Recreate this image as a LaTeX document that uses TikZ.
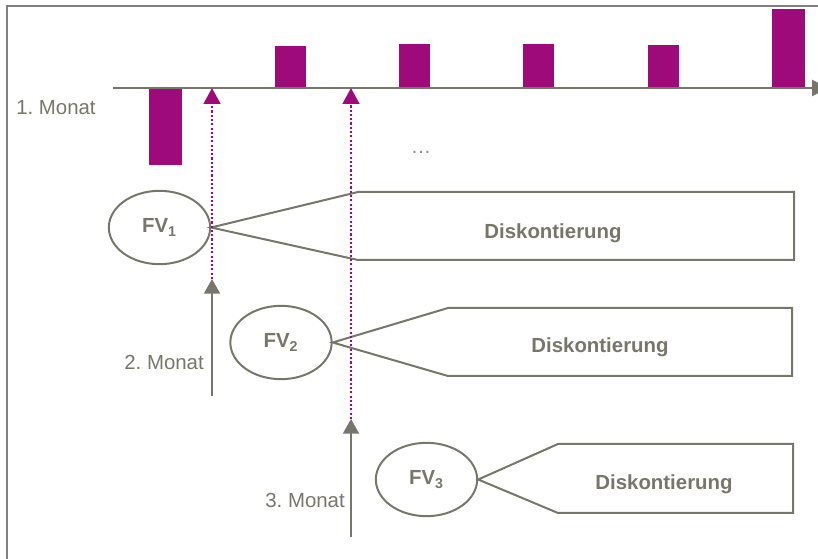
\documentclass[tikz,border=0pt]{standalone}
\usepackage{fontspec}
\setmainfont{Liberation Sans}
\usepackage{xcolor}
\usepackage{tikz}
\usetikzlibrary{shapes,arrows,positioning,calc,arrows.meta}
\definecolor{linegray}{RGB}{118,118,106}
\definecolor{bordergray}{RGB}{128,128,128}
\definecolor{barpurple}{RGB}{158,10,122}
\newcommand{\labelfont}{\fontsize{15.3}{18}\selectfont}
\frenchspacing

\tikzset{
    fv/.style={ellipse, draw=linegray, line width=1.5pt, minimum width=76pt, minimum height=55pt, inner sep=0pt, text=linegray, font=\labelfont\bfseries},
    pentbox/.style={draw=linegray, line width=1.5pt, line join=miter},
    disk/.style={text=linegray, font=\labelfont\bfseries, inner sep=0pt},
    monat/.style={text=linegray, font=\labelfont, inner sep=0pt},
    grayarrow/.style={draw=linegray, line width=1.5pt, -{Triangle[length=11pt, width=12pt]}},
    purplearrow/.style={draw=barpurple, line width=2pt, dash pattern=on 1.6pt off 1.6pt, -{Triangle[length=12pt, width=12.5pt]}}
}

\begin{document}
\begin{tikzpicture}[x=0.75pt, y=-0.75pt]
    \useasboundingbox (0,0) rectangle (818,559);
    % Frame
    \draw[bordergray, line width=1.5pt] (7,580) -- (7,6) -- (840,6);
    % Cash flows
    \fill[barpurple] (149,88) rectangle (182,165);
    \fill[barpurple] (275,46) rectangle (306,88);
    \fill[barpurple] (399,44) rectangle (430,88);
    \fill[barpurple] (523,44) rectangle (554,88);
    \fill[barpurple] (648,45) rectangle (679,88);
    \fill[barpurple] (772,9) rectangle (805,88);
    \coordinate (axstart) at (113,88);
    \coordinate (axend) at (828,88);
    \draw[linegray, line width=2pt, -{Triangle[length=12pt, width=12pt]}] (axstart) -- (axend);
    \node[monat, anchor=west] (m1) at (16,108) {1. Monat};
    \node[monat, text=linegray!80] (dots) at (421,152) {…};

    % Future values
    \node[fv] (fv1) at (159.5,227.5) {FV\textsubscript{1}};
    \node[fv] (fv2) at (281,342.5) {FV\textsubscript{2}};
    \node[fv] (fv3) at (426.5,479.5) {FV\textsubscript{3}};

    % Discounting
    \draw[pentbox] (fv1.east) -- (358,192) -- (794,192) -- (794,260) -- (358,260) -- cycle;
    \node[disk] (d1) at (553,233) {Diskontierung};
    \draw[pentbox] (fv2.east) -- (448,308) -- (792,308) -- (792,376) -- (448,376) -- cycle;
    \node[disk] (d2) at (600,347) {Diskontierung};
    \draw[pentbox] (fv3.east) -- (558,444) -- (793,444) -- (793,513) -- (558,513) -- cycle;
    \node[disk] (d3) at (664,484) {Diskontierung};

    % Months
    \coordinate (a1) at (212,88);
    \coordinate (b1) at (212,279);
    \coordinate (c1) at (212,396);
    \coordinate (a2) at (351,88);
    \coordinate (b2) at (351,419);
    \coordinate (c2) at (351,537);
    \draw[purplearrow] (b1) -- (a1);
    \draw[purplearrow] (b2) -- (a2);
    \draw[grayarrow] (c1) -- (b1);
    \draw[grayarrow] (c2) -- (b2);
    \node[monat, anchor=east] (m2) at (204,362) {2. Monat};
    \node[monat, anchor=east] (m3) at (345,500) {3. Monat};
\end{tikzpicture}
\end{document}
